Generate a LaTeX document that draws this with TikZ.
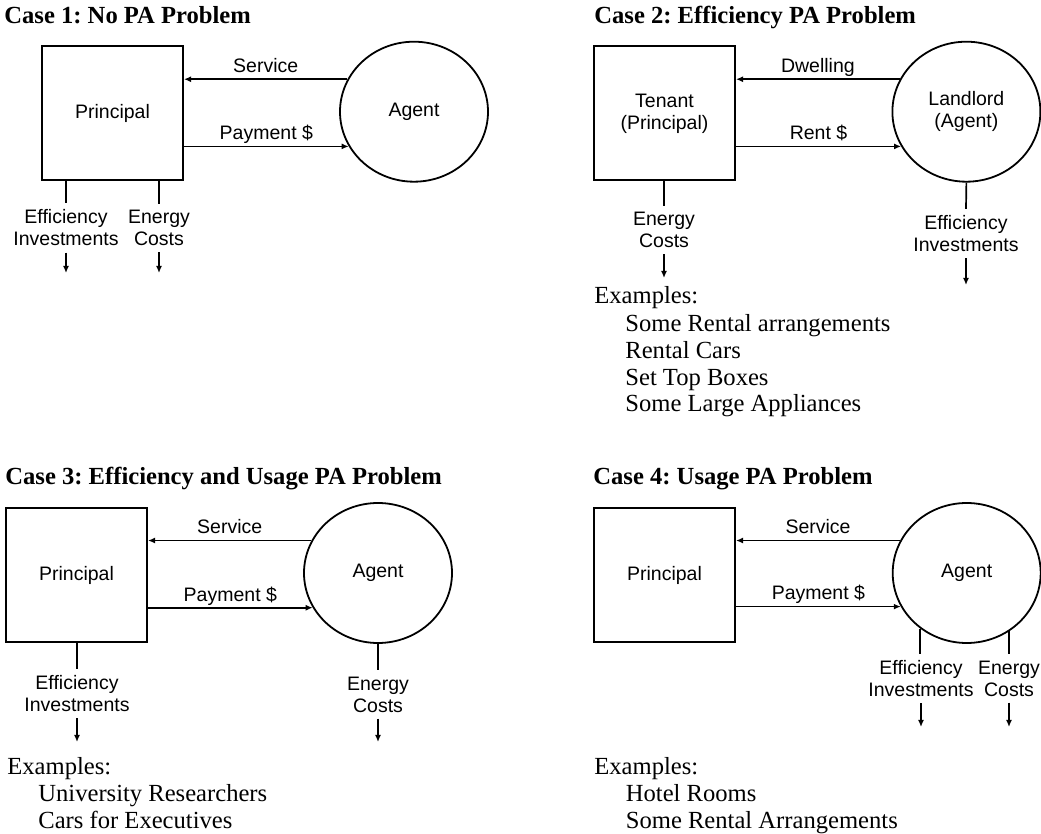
\documentclass[tikz,border=0pt]{standalone}
\usepackage{fontspec}
\setmainfont{Liberation Serif}
\setsansfont{Liberation Sans}
\usetikzlibrary{shapes.geometric,arrows.meta,positioning}
\frenchspacing

\begin{document}
\begin{tikzpicture}[x=0.5pt, y=-0.5pt,
  box/.style={draw, line width=1pt, minimum width=70.5pt, minimum height=67pt, inner sep=0pt, align=center, font=\sffamily\fontsize{9.75}{11}\selectfont},
  agent/.style={ellipse, draw, line width=0.9pt, minimum width=74pt, minimum height=70pt, inner sep=0pt, align=center, font=\sffamily\fontsize{9.75}{11}\selectfont},
  lbl/.style={inner sep=3pt, align=center, font=\sffamily\fontsize{9.75}{11}\selectfont},
  flow/.style={line width=0.85pt, -{Latex[length=3.5pt,width=3pt]}},
  stub/.style={line width=0.85pt},
  ttl/.style={anchor=base west, inner sep=0pt, font=\bfseries\fontsize{12.3}{14}\selectfont},
  ex/.style={anchor=base west, inner sep=0pt, font=\fontsize{12.3}{14}\selectfont}]
\useasboundingbox (0,0) rectangle (1041,834);

% Case 1
\node[ttl] (T1) at (4,24) {Case 1: No PA Problem};
\node[box] (P1) at (112.5,113.5) {Principal};
\node[agent] (A1) at (414,111.7) {Agent};
\draw[flow] (A1.154.4) -- (A1.154.4 -| P1.east) node[midway, anchor=base, yshift=3.3pt, lbl, inner sep=0pt] {Service};
\draw[flow] (A1.208 -| P1.east) -- (A1.208) node[midway, anchor=base, yshift=3.3pt, lbl, inner sep=0pt] {Payment \$};
\node[lbl] (EI1) at (66,228) {Efficiency\\Investments};
\node[lbl] (EC1) at (159,228) {Energy\\Costs};
\coordinate (ei1) at (66,273);
\coordinate (ec1) at (159,273);
\draw[stub] (P1.south -| EI1) -- (EI1.north);
\draw[stub] (P1.south -| EC1) -- (EC1.north);
\draw[flow] (EI1.south) -- (ei1);
\draw[flow] (EC1.south) -- (ec1);

% Case 2
\node[ttl] (T2) at (594,24) {Case 2: Efficiency PA Problem};
\node[box] (P2) at (664.5,113.5) {Tenant\\(Principal)};
\node[agent] (A2) at (966.4,111.7) {Landlord\\(Agent)};
\draw[flow] (A2.154.4) -- (A2.154.4 -| P2.east) node[midway, anchor=base, yshift=3.3pt, lbl, inner sep=0pt] {Dwelling};
\draw[flow] (A2.208 -| P2.east) -- (A2.208) node[midway, anchor=base, yshift=3.3pt, lbl, inner sep=0pt] {Rent \$};
\node[lbl] (EC2) at (664,230) {Energy\\Costs};
\node[lbl] (EI2) at (966,233.5) {Efficiency\\Investments};
\coordinate (ec2) at (664,278);
\coordinate (ei2) at (966,285);
\draw[stub] (P2.south -| EC2) -- (EC2.north);
\draw[stub] (A2.south) -- (EI2.north);
\draw[flow] (EC2.south) -- (ec2);
\draw[flow] (EI2.south) -- (ei2);
\node[ex] (X2) at (594,304) {Examples:};
\node[ex] (X2a) at (625,332) {Some Rental arrangements};
\node[ex] (X2b) at (625,359) {Rental Cars};
\node[ex] (X2c) at (625,386) {Set Top Boxes};
\node[ex] (X2d) at (625,412) {Some Large Appliances};

% Case 3
\node[ttl] (T3) at (5,485) {Case 3: Efficiency and Usage PA Problem};
\node[box] (P3) at (76.5,575.5) {Principal};
\node[agent] (A3) at (378,573) {Agent};
\draw[flow] (A3.154.1) -- (A3.154.1 -| P3.east) node[midway, anchor=base, yshift=3.3pt, lbl, inner sep=0pt] {Service};
\draw[flow] (A3.208.6 -| P3.east) -- (A3.208.6) node[midway, anchor=base, yshift=3.3pt, lbl, inner sep=0pt] {Payment \$};
\node[lbl] (EI3) at (77,693.5) {Efficiency\\Investments};
\node[lbl] (EC3) at (378,694.5) {Energy\\Costs};
\coordinate (ei3) at (77,742);
\coordinate (ec3) at (378,742);
\draw[stub] (P3.south -| EI3) -- (EI3.north);
\draw[stub] (A3.south) -- (EC3.north);
\draw[flow] (EI3.south) -- (ei3);
\draw[flow] (EC3.south) -- (ec3);
\node[ex] (X3) at (7,775) {Examples:};
\node[ex] (X3a) at (38,802) {University Researchers};
\node[ex] (X3b) at (38,828) {Cars for Executives};

% Case 4
\node[ttl] (T4) at (593,485) {Case 4: Usage PA Problem};
\node[box] (P4) at (664.5,575) {Principal};
\node[agent] (A4) at (966.7,573) {Agent};
\draw[flow] (A4.154.1) -- (A4.154.1 -| P4.east) node[midway, anchor=base, yshift=3.3pt, lbl, inner sep=0pt] {Service};
\draw[flow] (A4.207.7 -| P4.east) -- (A4.207.7) node[midway, anchor=base, yshift=3.3pt, lbl, inner sep=0pt] {Payment \$};
\node[lbl] (EI4) at (921,678.5) {Efficiency\\Investments};
\node[lbl] (EC4) at (1009,678.5) {Energy\\Costs};
\coordinate (ei4) at (921,727);
\coordinate (ec4) at (1009,727);
\draw[stub] (A4.230.3) -- (A4.230.3 |- EI4.north);
\draw[stub] (A4.306.4) -- (A4.306.4 |- EC4.north);
\draw[flow] (EI4.south) -- (ei4);
\draw[flow] (EC4.south) -- (ec4);
\node[ex] (X4) at (594,775) {Examples:};
\node[ex] (X4a) at (625.5,802) {Hotel Rooms};
\node[ex] (X4b) at (625.5,828) {Some Rental Arrangements};
\end{tikzpicture}
\end{document}
